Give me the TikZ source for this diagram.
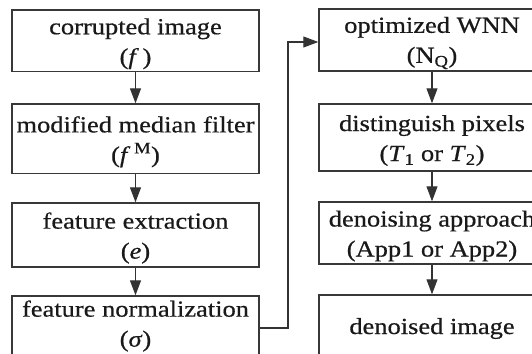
\documentclass[tikz,border=0pt]{standalone}
\usepackage{fontspec}
\setmainfont[FakeStretch=1.15,FakeBold=0.6]{Liberation Serif}
\usetikzlibrary{arrows.meta,calc}
\begin{document}
\begin{tikzpicture}[x=1pt,y=-1pt,
  box/.style={draw=black!78,line width=1.4pt,inner sep=0pt},
  lbox/.style={box,minimum width=247pt},
  rbox/.style={box,minimum width=226pt},
  txt/.style={text=black!90,align=center,inner sep=0pt,font=\fontsize{23}{30}\selectfont},
  arr/.style={draw=black!80,line width=1.1pt,-{Triangle[length=15pt,width=11pt]}}]
\useasboundingbox (0,0) rectangle (532,353);
\clip (0,0) rectangle (532,353);
\node[lbox,minimum height=61.5pt] (l1) at (135.5,40.75) {};
\node[lbox,minimum height=69.5pt] (l2) at (135.5,138.75) {};
\node[lbox,minimum height=64pt] (l3) at (135.5,235) {};
\node[lbox,minimum height=62pt] (l4) at (135.5,327) {};
\node[rbox,minimum height=62pt] (r1) at (432,40) {};
\node[rbox,minimum height=67pt] (r2) at (432,137.5) {};
\node[rbox,minimum height=62pt] (r3) at (432,233) {};
\node[rbox,minimum height=63pt] (r4) at (432,326.5) {};
\node[txt] (l1t) at ($(l1)+(0,3)$) {corrupted image\\(\textit{f}\,)};
\node[txt] (l2t) at ($(l2)+(0,3)$) {modified median filter\\(\textit{f}\,\textsuperscript{M})};
\node[txt] (l3t) at ($(l3)+(0,3)$) {feature extraction\\(\textit{e})};
\node[txt] (l4t) at ($(l4)+(0,-1)$) {feature normalization\\(\textit{σ})};
\node[txt] (r1t) at ($(r1)+(0,3)$) {optimized WNN\\(N\textsubscript{Q})};
\node[txt] (r2t) at ($(r2)+(0,3)$) {distinguish pixels\\(\textit{T}\textsubscript{1} or \textit{T}\textsubscript{2})};
\node[txt] (r3t) at ($(r3)+(0,3)$) {denoising approach\\(App1 or App2)};
\node[txt] (r4t) at ($(r4)+(0,2)$) {denoised image};
\draw[arr] (l1) -- (l2);
\draw[arr] (l2) -- (l3);
\draw[arr] (l3) -- (l4);
\draw[arr] (r1) -- (r2);
\draw[arr] (r2) -- (r3);
\draw[arr] (r3) -- (r4);
\coordinate (c1) at (288,328);
\coordinate (c2) at (288,42);
\draw[arr] (l4.east |- c1) -- (c1) -- (c2) -- (r1.west |- c2);
\end{tikzpicture}
\end{document}
